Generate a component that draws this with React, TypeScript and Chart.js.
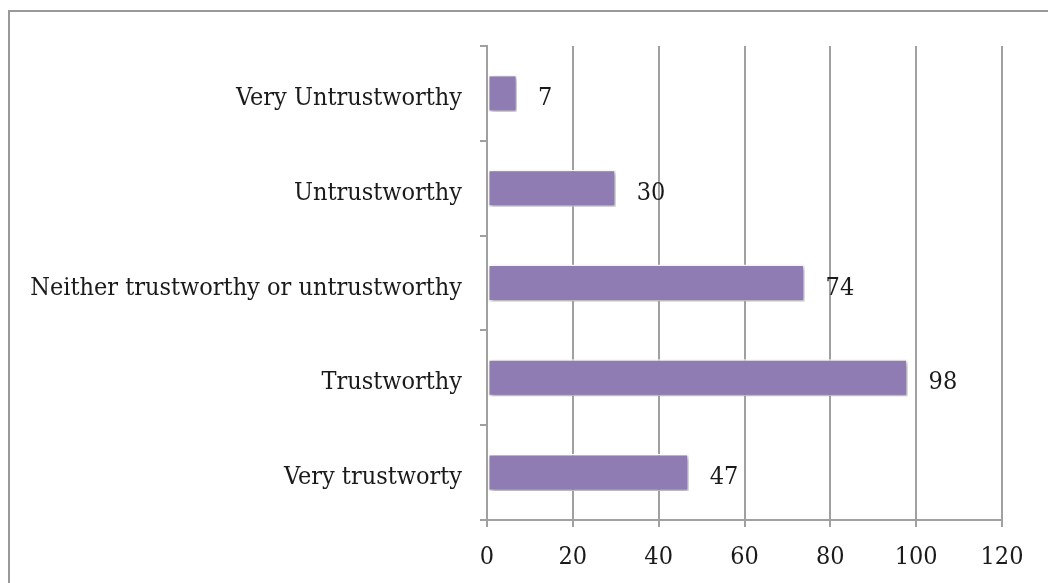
import React, { useEffect, useRef } from "react";
import { Chart, registerables } from "chart.js";

Chart.register(...registerables);

const categories = [
  "Very Untrustworthy",
  "Untrustworthy",
  "Neither trustworthy or untrustworthy",
  "Trustworthy",
  "Very trustworty",
];
const values = [7, 30, 74, 98, 47];
const xTicks = [0, 20, 40, 60, 80, 100, 120];

const FONT = "'DejaVu Serif Condensed', 'DejaVu Serif', serif";
const FSIZE = 25;
const TEXT = "#1a1a1a";
const GRID = "#a0a0a0";

export default function App() {
  const ref = useRef<HTMLCanvasElement | null>(null);

  useEffect(() => {
    document.body.style.margin = "0";
    const canvas = ref.current!;
    const shadowPlugin = {
      id: "barShadow",
      beforeDatasetDraw(chart: any) {
        const ctx = chart.ctx;
        ctx.save();
        ctx.shadowColor = "rgba(0,0,0,0.35)";
        ctx.shadowBlur = 4;
        ctx.shadowOffsetX = 1.5;
        ctx.shadowOffsetY = 2;
      },
      afterDatasetDraw(chart: any) {
        chart.ctx.restore();
      },
    };
    const labelPlugin = {
      id: "valueLabels",
      afterDatasetsDraw(chart: any) {
        const ctx = chart.ctx;
        const meta = chart.getDatasetMeta(0);
        ctx.save();
        ctx.font = `${FSIZE}px ${FONT}`;
        ctx.fillStyle = TEXT;
        ctx.textAlign = "left";
        ctx.textBaseline = "middle";
        meta.data.forEach((bar: any, i: number) => {
          ctx.fillText(String(values[i]), bar.x + 21, bar.y + 5);
        });
        ctx.restore();
      },
    };
    const chart = new Chart(canvas, {
      type: "bar",
      data: {
        labels: categories,
        datasets: [
          {
            data: values,
            backgroundColor: "#8e7cb2",
            borderColor: "#ffffff",
            borderWidth: 1.5,
            borderSkipped: false,
            categoryPercentage: 0.39,
            barPercentage: 1,
          },
        ],
      },
      options: {
        indexAxis: "y",
        animation: false,
        responsive: false,
        maintainAspectRatio: false,
        layout: { padding: { top: 46, right: 46, left: 0, bottom: 0 } },
        plugins: {
          legend: { display: false },
          tooltip: { enabled: false },
        },
        scales: {
          x: {
            min: 0,
            max: 120,
            afterBuildTicks(scale: any) {
              scale.ticks = xTicks.map((v) => ({ value: v }));
            },
            afterFit(scale: any) {
              scale.height = 63;
            },
            grid: {
              color: GRID,
              lineWidth: 2,
              tickLength: 7,
              drawTicks: true,
            },
            border: { display: true, color: GRID, width: 2 },
            ticks: {
              color: TEXT,
              font: { family: FONT, size: FSIZE },
              padding: 15,
            },
          },
          y: {
            afterFit(scale: any) {
              scale.width = 487;
            },
            grid: {
              offset: true,
              drawOnChartArea: false,
              color: GRID,
              lineWidth: 2,
              tickLength: 7,
            },
            border: { display: true, color: GRID, width: 2 },
            ticks: {
              color: TEXT,
              font: { family: FONT, size: FSIZE },
              padding: 18,
              labelOffset: 5,
            },
          },
        },
      },
      plugins: [shadowPlugin, labelPlugin],
    });
    return () => chart.destroy();
  }, []);

  return (
    <div style={{ position: "relative", width: 1048, height: 583, overflow: "hidden", background: "#fff" }}>
      <canvas ref={ref} width={1048} height={583} style={{ position: "absolute", left: 0, top: 0 }} />
      <div
        style={{
          position: "absolute",
          left: 8,
          top: 10,
          width: 1100,
          height: 700,
          border: "2px solid #999",
          boxSizing: "border-box",
          pointerEvents: "none",
        }}
      />
    </div>
  );
}
